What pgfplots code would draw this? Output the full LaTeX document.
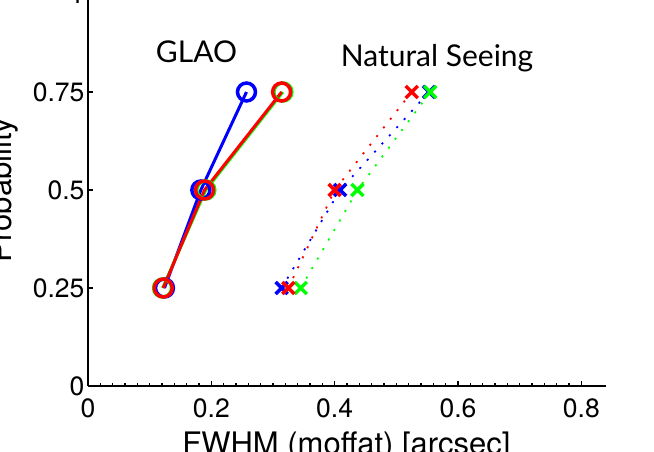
\documentclass[border=0pt]{standalone}
\usepackage{pgfplots}
\pgfplotsset{compat=1.18}
\usepackage{fontspec}
\setmainfont{TeX Gyre Heros}
\newfontfamily\annfont{Lato}

\begin{document}
\begin{tikzpicture}
\path[use as bounding box] (-88pt,-66pt) rectangle (566pt,386pt);
\clip (-88pt,-66pt) rectangle (566pt,386pt);
\begin{axis}[
  at={(0pt,0pt)}, anchor=south west,
  scale only axis, width=518pt, height=392pt,
  xmin=0, xmax=0.84, ymin=0, ymax=1,
  axis x line=bottom, axis y line=left,
  axis line style={-, line width=1.3pt, black},
  xtick={0,0.2,0.4,0.6,0.8}, xticklabels={0,0.2,0.4,0.6,0.8},
  minor x tick num=9,
  ytick={0,0.25,0.5,0.75,1}, yticklabels={0,0.25,0.5,0.75,1},
  tick align=inside,
  major tick length=5pt, minor tick length=3pt,
  every tick/.style={black, line width=1.2pt},
  ticklabel style={font=\fontsize{26.5}{30}\selectfont},
  xticklabel style={yshift=-9pt},
  /pgf/number format/assume math mode=true,
  xlabel={FWHM (moffat) [arcsec]},
  ylabel={Probability},
  every axis x label/.style={at={(axis description cs:0.499,-0.1745)}, anchor=base, font=\fontsize{31}{36}\selectfont},
  every axis y label/.style={at={(axis description cs:-0.1486,0.5)}, anchor=base, rotate=90, font=\fontsize{31}{36}\selectfont},
  clip=false,
]
% GLAO
\addplot[blue, line width=3pt, mark=o, mark size=9pt, mark options={line width=3.5pt}] coordinates {(0.124,0.25) (0.183,0.5) (0.257,0.75)};
\addplot[green, line width=3pt, mark=o, mark size=9pt, mark options={line width=3.5pt}] coordinates {(0.121,0.25) (0.191,0.5) (0.316,0.75)};
\addplot[red, line width=3pt, mark=o, mark size=9pt, mark options={line width=3.5pt}] coordinates {(0.122,0.25) (0.189,0.5) (0.314,0.75)};
% Natural seeing
\addplot[blue, line width=1.8pt, dash pattern=on 2pt off 9pt, mark=x, mark size=8.5pt, mark options={solid, line width=3.5pt}] coordinates {(0.314,0.25) (0.409,0.5) (0.553,0.75)};
\addplot[green, line width=1.8pt, dash pattern=on 2pt off 9pt, mark=x, mark size=8.5pt, mark options={solid, line width=3.5pt}] coordinates {(0.345,0.25) (0.437,0.5) (0.555,0.75)};
\addplot[red, line width=1.8pt, dash pattern=on 2pt off 9pt, mark=x, mark size=8.5pt, mark options={solid, line width=3.5pt}] coordinates {(0.325,0.25) (0.400,0.5) (0.525,0.75)};
\node[font=\annfont\fontsize{30}{34}\selectfont, anchor=base] at (axis cs:0.176,0.824) {GLAO};
\node[font=\annfont\fontsize{30}{34}\selectfont, anchor=base] at (axis cs:0.566,0.814) {Natural Seeing};
\end{axis}
\end{tikzpicture}
\end{document}
